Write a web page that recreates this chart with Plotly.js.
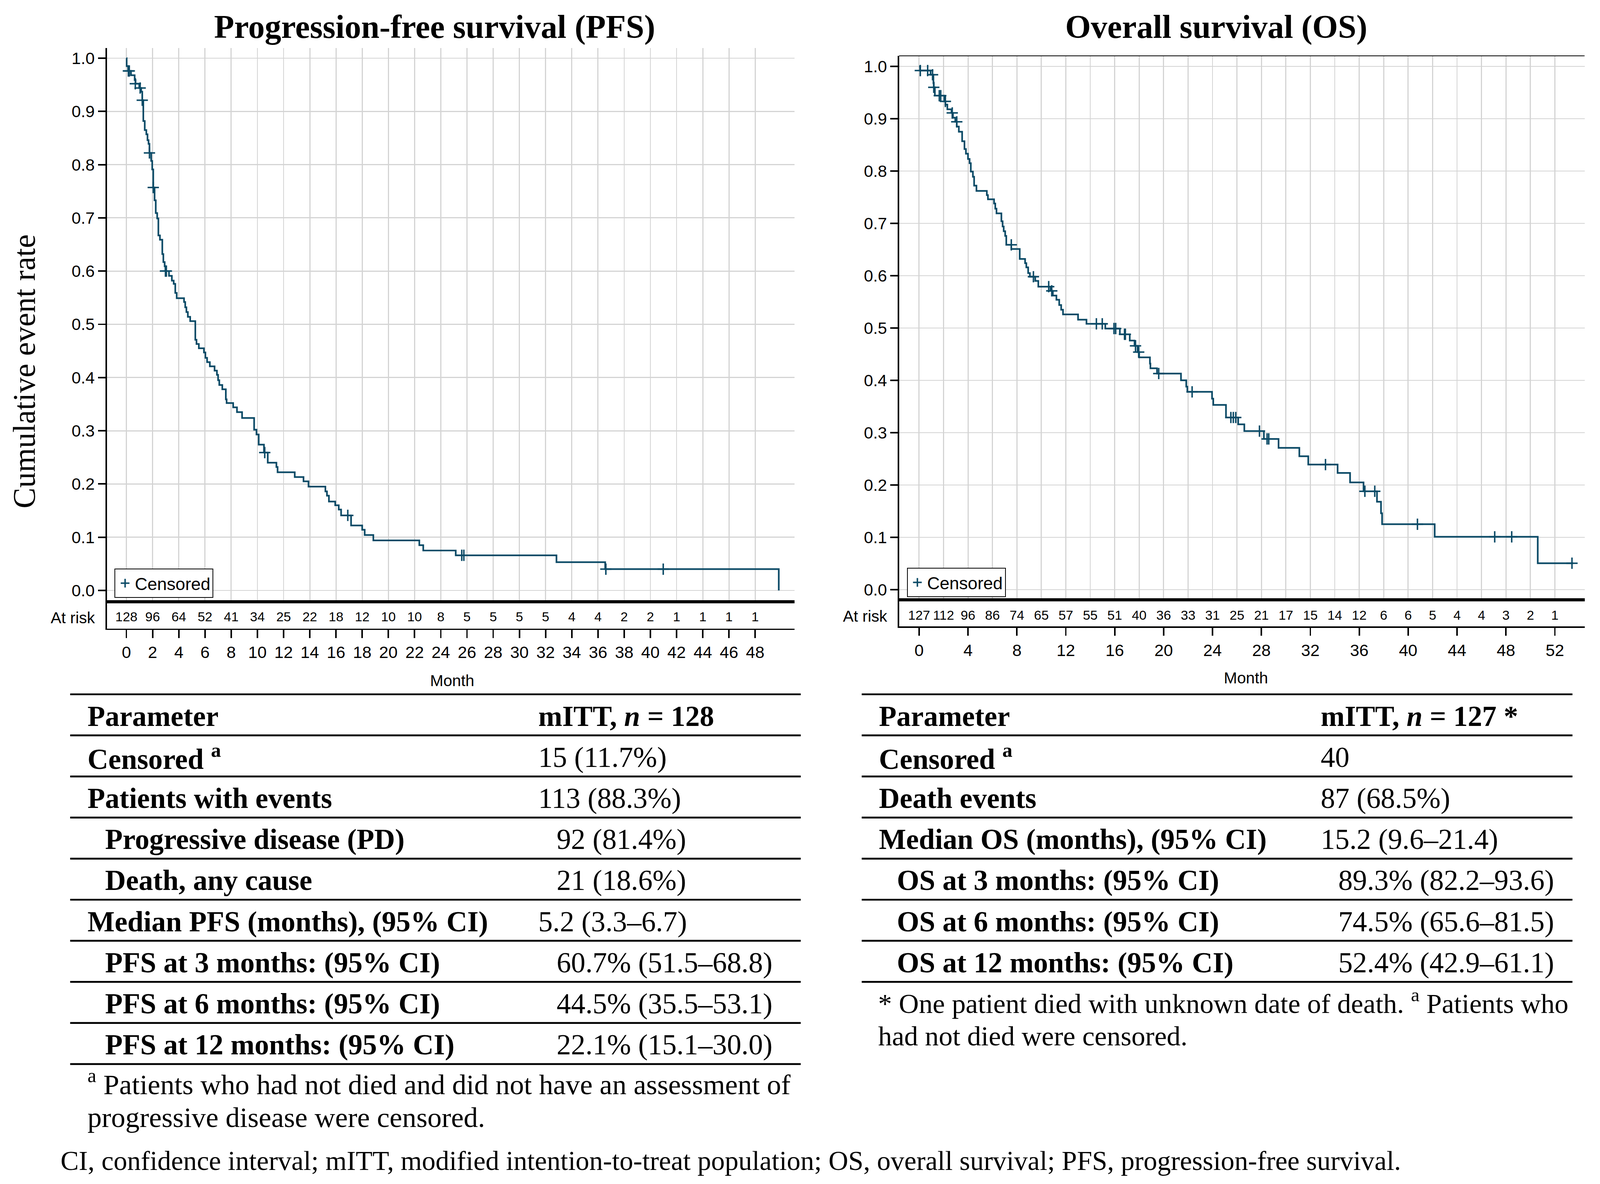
<!DOCTYPE html>
<html><head><meta charset="utf-8">
<script src="https://cdn.plot.ly/plotly-3.0.1.min.js"></script>
<style>html,body{margin:0;padding:0;background:#fff;overflow:hidden}</style>
</head><body><div id="chart"></div>
<script>
// ---------------- DATA ----------------
const pfsTime = [0, 0.02, 0.13, 0.35, 0.63, 0.70, 0.98, 1.13, 1.21, 1.29, 1.40, 1.52, 1.61, 1.69, 1.76, 1.89, 1.97, 2.05, 2.15, 2.24, 2.35, 2.44, 2.56, 2.74, 2.82, 2.92, 2.98, 3.25, 3.47, 3.61, 3.73, 3.84, 4.40, 4.49, 4.58, 4.69, 4.87, 5.26, 5.35, 5.53, 5.92, 6.03, 6.16, 6.37, 6.73, 6.91, 7.00, 7.09, 7.32, 7.59, 7.65, 8.15, 8.44, 8.83, 9.75, 9.93, 10.10, 10.50, 10.79, 11.45, 11.54, 12.85, 13.52, 13.90, 15.19, 15.31, 15.46, 15.94, 16.21, 16.39, 17.15, 18.00, 18.19, 18.85, 22.36, 22.66, 25.14, 32.83, 36.55, 49.80];
const pfsSurv = [1.000, 0.985, 0.976, 0.968, 0.959, 0.952, 0.944, 0.937, 0.921, 0.882, 0.865, 0.857, 0.846, 0.839, 0.822, 0.807, 0.791, 0.757, 0.733, 0.709, 0.699, 0.667, 0.659, 0.632, 0.617, 0.609, 0.600, 0.591, 0.582, 0.576, 0.559, 0.549, 0.542, 0.532, 0.523, 0.514, 0.506, 0.471, 0.463, 0.455, 0.447, 0.437, 0.429, 0.421, 0.413, 0.405, 0.395, 0.386, 0.378, 0.359, 0.352, 0.344, 0.335, 0.324, 0.302, 0.293, 0.274, 0.259, 0.240, 0.232, 0.222, 0.213, 0.205, 0.195, 0.186, 0.178, 0.167, 0.160, 0.152, 0.141, 0.122, 0.114, 0.104, 0.094, 0.085, 0.075, 0.066, 0.053, 0.040, 0.000];
const pfsCensorTime = [0.15, 0.22, 0.68, 1.05, 1.21, 1.76, 2.05, 2.98, 3.05, 10.56, 16.90, 25.60, 25.76, 36.60, 40.98];
const pfsCensorSurv = [0.976, 0.976, 0.952, 0.944, 0.921, 0.822, 0.757, 0.600, 0.600, 0.259, 0.141, 0.066, 0.066, 0.040, 0.040];
const pfsRiskMonths = [0, 2, 4, 6, 8, 10, 12, 14, 16, 18, 20, 22, 24, 26, 28, 30, 32, 34, 36, 38, 40, 42, 44, 46, 48];
const pfsAtRisk = [128, 96, 64, 52, 41, 34, 25, 22, 18, 12, 10, 10, 8, 5, 5, 5, 5, 4, 4, 2, 2, 1, 1, 1, 1];
const pfsTickMonths = [0, 2, 4, 6, 8, 10, 12, 14, 16, 18, 20, 22, 24, 26, 28, 30, 32, 34, 36, 38, 40, 42, 44, 46, 48];

const osTime = [0, 0.08, 0.94, 1.17, 1.20, 1.29, 2.06, 2.15, 2.31, 2.65, 2.77, 2.96, 3.08, 3.25, 3.52, 3.71, 3.83, 4.00, 4.13, 4.23, 4.40, 4.50, 4.69, 5.54, 5.63, 6.13, 6.23, 6.33, 6.73, 6.83, 6.92, 7.04, 7.13, 7.54, 8.23, 8.67, 8.77, 8.92, 9.06, 9.50, 9.75, 10.75, 10.94, 11.23, 11.46, 11.62, 11.77, 13.00, 13.69, 15.23, 16.42, 17.23, 17.62, 17.87, 18.00, 18.88, 18.92, 19.46, 21.42, 21.85, 21.94, 23.96, 24.06, 25.10, 26.10, 26.60, 28.20, 29.40, 31.10, 31.83, 34.23, 35.25, 36.35, 37.45, 37.78, 37.87, 42.17, 50.60, 53.50];
const osSurv = [1.000, 0.992, 0.984, 0.968, 0.960, 0.944, 0.933, 0.927, 0.918, 0.911, 0.902, 0.894, 0.885, 0.875, 0.857, 0.842, 0.833, 0.823, 0.815, 0.799, 0.789, 0.772, 0.762, 0.754, 0.746, 0.738, 0.728, 0.719, 0.704, 0.694, 0.685, 0.676, 0.659, 0.651, 0.632, 0.624, 0.616, 0.605, 0.598, 0.590, 0.579, 0.571, 0.562, 0.554, 0.544, 0.535, 0.526, 0.516, 0.508, 0.499, 0.488, 0.476, 0.466, 0.454, 0.444, 0.432, 0.423, 0.413, 0.400, 0.388, 0.378, 0.365, 0.353, 0.329, 0.316, 0.303, 0.288, 0.271, 0.255, 0.239, 0.223, 0.205, 0.188, 0.168, 0.146, 0.125, 0.101, 0.0505, 0.0505];
const osCensorTime = [0.10, 0.70, 1.10, 1.20, 1.65, 1.77, 2.15, 2.71, 3.08, 7.54, 9.35, 10.60, 10.85, 14.50, 14.98, 15.94, 16.08, 16.80, 16.87, 17.70, 17.96, 19.60, 22.33, 25.50, 25.70, 25.90, 27.84, 28.46, 28.60, 33.24, 36.46, 37.27, 40.76, 47.08, 48.47, 53.40];
const osCensorSurv = [0.992, 0.992, 0.984, 0.960, 0.944, 0.944, 0.933, 0.911, 0.894, 0.659, 0.598, 0.579, 0.571, 0.508, 0.508, 0.499, 0.499, 0.488, 0.488, 0.466, 0.454, 0.413, 0.378, 0.329, 0.329, 0.329, 0.303, 0.288, 0.288, 0.239, 0.188, 0.188, 0.125, 0.101, 0.101, 0.0505];
const osRiskMonths = [0, 2, 4, 6, 8, 10, 12, 14, 16, 18, 20, 22, 24, 26, 28, 30, 32, 34, 36, 38, 40, 42, 44, 46, 48, 50, 52];
const osAtRisk = [127, 112, 96, 86, 74, 65, 57, 55, 51, 40, 36, 33, 31, 25, 21, 17, 15, 14, 12, 6, 6, 5, 4, 4, 3, 2, 1];
const osTickMonths = [0, 4, 8, 12, 16, 20, 24, 28, 32, 36, 40, 44, 48, 52];
const osGridMonths = [0, 2, 4, 6, 8, 10, 12, 14, 16, 18, 20, 22, 24, 26, 28, 30, 32, 34, 36, 38, 40, 42, 44, 46, 48, 50, 52];

const yTickValues = [0, 0.1, 0.2, 0.3, 0.4, 0.5, 0.6, 0.7, 0.8, 0.9, 1.0];

const pfsParameters = ['Parameter', 'Censored <sup>a</sup>', 'Patients with events', 'Progressive disease (PD)', 'Death, any cause', 'Median PFS (months), (95% CI)', 'PFS at 3 months: (95% CI)', 'PFS at 6 months: (95% CI)', 'PFS at 12 months: (95% CI)'];
const pfsValues = ['mITT, <i>n</i> = 128', '15 (11.7%)', '113 (88.3%)', '92 (81.4%)', '21 (18.6%)', '5.2 (3.3–6.7)', '60.7% (51.5–68.8)', '44.5% (35.5–53.1)', '22.1% (15.1–30.0)'];
const pfsRowLevel = [0, 0, 0, 1, 1, 0, 1, 1, 1];

const osParameters = ['Parameter', 'Censored <sup>a</sup>', 'Death events', 'Median OS (months), (95% CI)', 'OS at 3 months: (95% CI)', 'OS at 6 months: (95% CI)', 'OS at 12 months: (95% CI)'];
const osValues = ['mITT, <i>n</i> = 127 *', '40', '87 (68.5%)', '15.2 (9.6–21.4)', '89.3% (82.2–93.6)', '74.5% (65.6–81.5)', '52.4% (42.9–61.1)'];
const osRowLevel = [0, 0, 0, 0, 1, 1, 1];

const pfsFootnote = ['<sup>a</sup> Patients who had not died and did not have an assessment of', 'progressive disease were censored.'];
const osFootnote = ['* One patient died with unknown date of death. <sup>a</sup> Patients who', 'had not died were censored.'];
const abbrevNote = 'CI, confidence interval; mITT, modified intention-to-treat population; OS, overall survival; PFS, progression-free survival.';

// ---------------- LAYOUT HELPERS ----------------
const W = 4356, H = 3032;
const VW = window.innerWidth || document.documentElement.clientWidth || W;
const VH = window.innerHeight || document.documentElement.clientHeight || H;
const sx = VW / W, sy = VH / H;
const S = v => v * sx;                       // line widths, marker sizes, tight labels
const F = v => v * Math.sqrt(sx * sy);       // general font sizes
const px = v => v / W;                       // reference pixel -> paper fraction
const py = v => 1 - v / H;
const CURVE = '#0b4a66';
const GRID = '#d4d4d4';
const SANS = 'Liberation Sans, Arial, sans-serif';
const SERIF = 'Liberation Serif, Times New Roman, serif';

const traces = [
  {x: pfsTime, y: pfsSurv, xaxis: 'x', yaxis: 'y', mode: 'lines', line: {shape: 'hv', color: CURVE, width: S(4.5)}, showlegend: false, hoverinfo: 'skip'},
  {x: pfsCensorTime, y: pfsCensorSurv, xaxis: 'x', yaxis: 'y', mode: 'markers', name: 'Censored', legend: 'legend',
   marker: {symbol: 'cross-thin', size: S(22), color: CURVE, line: {width: S(4), color: CURVE}}},
  {x: pfsRiskMonths, y: pfsRiskMonths.map(() => 0.4), text: pfsAtRisk.map(String), xaxis: 'x2', yaxis: 'y2', mode: 'text',
   textfont: {family: SANS, size: S(36), color: '#000'}, showlegend: false, hoverinfo: 'skip'},
  {x: osTime, y: osSurv, xaxis: 'x3', yaxis: 'y3', mode: 'lines', line: {shape: 'hv', color: CURVE, width: S(4.5)}, showlegend: false, hoverinfo: 'skip'},
  {x: osCensorTime, y: osCensorSurv, xaxis: 'x3', yaxis: 'y3', mode: 'markers', name: 'Censored', legend: 'legend2',
   marker: {symbol: 'cross-thin', size: S(22), color: CURVE, line: {width: S(4), color: CURVE}}},
  {x: osRiskMonths, y: osRiskMonths.map(() => 0.38), text: osAtRisk.map(String), xaxis: 'x4', yaxis: 'y4', mode: 'text',
   textfont: {family: SANS, size: S(36), color: '#000'}, showlegend: false, hoverinfo: 'skip'}
];

const tickFont = {family: SANS, size: F(44), color: '#000'};
function mainX(domain, range, grid, anchor) {
  return {domain, range, anchor, tickvals: grid, showticklabels: false, ticks: '', showgrid: true, gridcolor: GRID, gridwidth: S(3),
          showline: true, linecolor: '#000', linewidth: S(4), zeroline: false, fixedrange: true};
}
function mainY(domain, range, anchor) {
  return {domain, range, anchor, tickvals: yTickValues, tickformat: '.1f', ticks: 'outside', ticklen: S(20), tickwidth: S(4), tickcolor: '#000',
          showline: true, linecolor: '#000', linewidth: S(4), showgrid: true, gridcolor: GRID, gridwidth: S(3), zeroline: false, tickfont: tickFont};
}
function riskX(domain, range, ticks, anchor) {
  return {domain, range, anchor, tickvals: ticks, ticks: 'outside', ticklen: S(22), tickwidth: S(4), tickcolor: '#000', showgrid: false,
          showline: true, mirror: true, linecolor: '#000', linewidth: S(4), zeroline: false, tickfont: tickFont};
}
function riskY(domain, anchor, pos) {
  return {domain, range: [0, 1], anchor, tickvals: [pos], ticktext: ['At risk'], ticks: 'outside', ticklen: S(20), tickcolor: 'rgba(0,0,0,0)',
          showline: true, linecolor: '#000', linewidth: S(4), showgrid: false, zeroline: false,
          tickfont: {family: SANS, size: F(42), color: '#000'}};
}

const pfsXDom = [px(291), px(2163)], osXDom = [px(2448), px(4314)];
const pfsRange = [-1.49, 51.0], osRange = [-1.63, 54.43];

const annotations = [];
const shapes = [];
function ann(text, x, y, opts) {
  const o = Object.assign({xanchor: 'left', family: SERIF, size: 76}, opts || {});
  const a = {text, x: px(x), y: py(y), xref: 'paper', yref: 'paper', showarrow: false,
    xanchor: o.xanchor, yanchor: 'middle', font: {family: o.family, size: F(o.size), color: '#000'}};
  if (o.textangle) a.textangle = o.textangle;
  annotations.push(a);
}
// titles
ann('<b>Progression-free survival (PFS)</b>', 1183, 69, {xanchor: 'center', size: 87});
ann('<b>Overall survival (OS)</b>', 3311, 69, {xanchor: 'center', size: 87});
ann('Cumulative event rate', 66, 951, {xanchor: 'center', textangle: -90, size: 82});
ann('Month', 1231, 1743, {xanchor: 'center', family: SANS, size: 42});
ann('Month', 3392, 1736, {xanchor: 'center', family: SANS, size: 42});

// tables
const ROW0 = 1778, ROWH = 105.2;
function table(params, values, levels, lx, rx, c1, c1i, c2, c2i) {
  for (let k = 0; k <= params.length; k++) {
    const yy = py(ROW0 + ROWH * k);
    shapes.push({type: 'line', xref: 'paper', yref: 'paper', x0: px(lx), x1: px(rx), y0: yy, y1: yy, line: {color: '#000', width: S(5)}});
  }
  params.forEach((p, i) => {
    const yc = ROW0 + ROWH * i + ROWH / 2 + 3;
    ann('<b>' + p + '</b>', levels[i] ? c1i : c1, yc);
    ann(i === 0 ? '<b>' + values[i] + '</b>' : values[i], levels[i] ? c2i : c2, yc);
  });
}
table(pfsParameters, pfsValues, pfsRowLevel, 191, 2180, 236, 284, 1463, 1513);
table(osParameters, osValues, osRowLevel, 2346, 4281, 2391, 2440, 3593, 3641);

ann(pfsFootnote[0], 236, 2772, {size: 75});
ann(pfsFootnote[1], 236, 2861, {size: 75});
ann(osFootnote[0], 2389, 2564, {size: 73});
ann(osFootnote[1], 2389, 2653, {size: 73});
ann(abbrevNote, 163, 2972, {size: 72});

// thin top border on OS plot
shapes.push({type: 'line', xref: 'paper', yref: 'paper', x0: osXDom[0], x1: osXDom[1], y0: py(143), y1: py(143), line: {color: '#000', width: S(2)}});

const legendStyle = {bgcolor: '#fff', bordercolor: '#000', borderwidth: S(2), font: {family: SANS, size: F(46), color: '#000'},
  xanchor: 'left', yanchor: 'top', itemsizing: 'trace', itemwidth: 40, tracegroupgap: 0};

const layout = {
  width: VW, height: VH, margin: {l: 0, r: 0, t: 0, b: 0, pad: 0}, paper_bgcolor: '#fff', plot_bgcolor: 'rgba(0,0,0,0)',
  showlegend: true,
  legend: Object.assign({x: px(312), y: py(1456)}, legendStyle),
  legend2: Object.assign({x: px(2469), y: py(1454)}, legendStyle),
  xaxis: mainX(pfsXDom, pfsRange, pfsTickMonths, 'y'),
  yaxis: mainY([py(1541), py(123)], [-0.0213, 1.0191], 'x'),
  xaxis2: riskX(pfsXDom, pfsRange, pfsTickMonths, 'y2'),
  yaxis2: riskY([py(1609.5), py(1541)], 'x2', 0.4),
  xaxis3: mainX(osXDom, osRange, osGridMonths, 'y3'),
  yaxis3: mainY([py(1536), py(143)], [-0.0194, 1.0201], 'x3'),
  xaxis4: riskX(osXDom, osRange, osTickMonths, 'y4'),
  yaxis4: riskY([py(1604), py(1536)], 'x4', 0.38),
  annotations, shapes
};

Plotly.newPlot('chart', traces, layout, {staticPlot: true, displayModeBar: false});
</script>
</body></html>
